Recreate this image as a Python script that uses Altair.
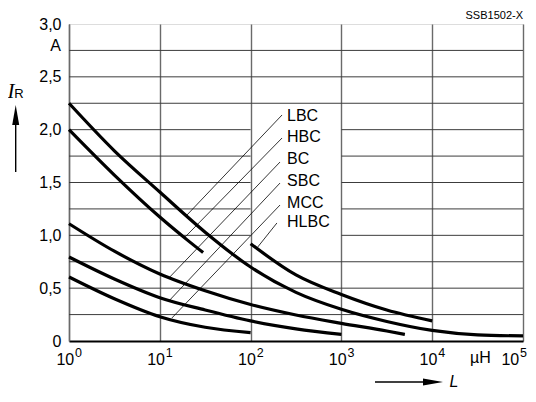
import altair as alt
import pandas as pd

# ---- data ----
curve_names = ["LBC", "HBC", "BC", "SBC", "MCC", "HLBC"]
lbc_L = [1, 3.16, 10, 31.6, 100, 316, 1000, 3162, 1e4, 3.16e4, 1e5]
lbc_I = [2.25, 1.80, 1.41, 1.03, 0.70, 0.46, 0.30, 0.185, 0.10, 0.058, 0.048]
hbc_L = [1, 3.16, 10, 20, 30]
hbc_I = [2.0, 1.57, 1.173, 0.957, 0.837]
bc_L = [1, 3.16, 10, 31.6, 100, 316, 1000, 3162, 5000]
bc_I = [1.11, 0.85, 0.634, 0.475, 0.345, 0.246, 0.167, 0.095, 0.062]
sbc_L = [1, 3.16, 10, 31.6, 100, 316, 1000]
sbc_I = [0.795, 0.587, 0.41, 0.293, 0.19, 0.115, 0.063]
mcc_L = [1, 3.16, 10, 31.6, 100]
mcc_I = [0.606, 0.40, 0.23, 0.13, 0.08]
hlbc_L = [100, 316, 1000, 3162, 1e4]
hlbc_I = [0.92, 0.625, 0.44, 0.293, 0.19]

# leader lines (label end -> curve end), in data units
lead_L1 = [222, 222, 211, 211, 211, 195]
lead_I1 = [2.139, 1.921, 1.694, 1.495, 1.287, 1.117]
lead_L2 = [19.9, 19.0, 12.9, 12.9, 13.6, 120]
lead_I2 = [1.192, 0.984, 0.606, 0.388, 0.218, 0.89]
label_L = [252, 252, 252, 252, 252, 252]
label_I = [2.129, 1.93, 1.722, 1.514, 1.306, 1.126]

grid_full = [0.25, 0.5, 0.75, 2.25, 2.5, 2.75]
grid_split = [1.0, 1.25, 1.5, 1.75, 2.0]
decades = [1, 10, 100, 1000, 10000, 100000]
exponents = ["0", "1", "2", "3", "4", "5"]
y_ticks = [0, 0.5, 1.0, 1.5, 2.0, 2.5, 3.0]

FONT = "Liberation Sans, Arial"
FS = 16
W, H = 454, 317

series = [lbc_L, hbc_L, bc_L, sbc_L, mcc_L, hlbc_L]
values = [lbc_I, hbc_I, bc_I, sbc_I, mcc_I, hlbc_I]
rows = []
for n, Ls, Is in zip(curve_names, series, values):
    for i, (l, v) in enumerate(zip(Ls, Is)):
        rows.append({"curve": n, "L": l, "I": v, "o": i})
curves = pd.DataFrame(rows)

g = []
for y in grid_full:
    g.append({"x1": 1, "x2": 1e5, "y": y})
for y in grid_split:
    g.append({"x1": 1, "x2": 100, "y": y})
    g.append({"x1": 1000, "x2": 1e5, "y": y})
grid = pd.DataFrame(g)

leaders = pd.DataFrame({"L1": lead_L1, "I1": lead_I1, "L2": lead_L2, "I2": lead_I2})
labels = pd.DataFrame({"name": curve_names, "L": label_L, "I": label_I})
dec = pd.DataFrame({"L": decades, "e": exponents})

xs = alt.Scale(type="log", domain=[1, 1e5], nice=False)
ys = alt.Scale(domain=[0, 3], nice=False)

base_x = alt.X("x1:Q", scale=xs, axis=alt.Axis(
    values=decades, grid=True, gridColor="#6a6a6a", gridWidth=1.4,
    labels=False, ticks=False, title=None, domainColor="#000", domainWidth=2))

grid_layer = alt.Chart(grid).mark_rule(color="#3c3c3c", strokeWidth=1).encode(
    x=base_x, x2="x2:Q",
    y=alt.Y("y:Q", scale=ys, axis=alt.Axis(
        values=y_ticks, grid=False, ticks=False, labelPadding=8, title=None,
        labelFont=FONT, labelFontSize=FS, labelColor="#000",
        domainColor="#6a6a6a", domainWidth=1.4,
        labelExpr="datum.value == 0 ? '0' : replace(format(datum.value, '.1f'), '.', ',')")),
)

curve_layer = alt.Chart(curves).mark_line(
    color="#000", strokeWidth=3.2, interpolate="monotone", strokeCap="butt").encode(
    x=alt.X("L:Q", scale=xs), y=alt.Y("I:Q", scale=ys), detail="curve:N", order="o:Q")

leader_layer = alt.Chart(leaders).mark_rule(color="#000", strokeWidth=0.8).encode(
    x=alt.X("L1:Q", scale=xs), y=alt.Y("I1:Q", scale=ys), x2="L2:Q", y2="I2:Q")

label_layer = alt.Chart(labels).mark_text(
    align="left", baseline="middle", font=FONT, fontSize=FS, color="#000").encode(
    x=alt.X("L:Q", scale=xs), y=alt.Y("I:Q", scale=ys), text="name:N")


def tick_labels(filt, shift):
    ten = alt.Chart(dec).transform_filter(filt).mark_text(
        align="center", baseline="alphabetic", font=FONT, fontSize=FS,
        dx=-3.7 + shift, color="#000").encode(
        x=alt.X("L:Q", scale=xs), y=alt.value(H + 24), text=alt.value("10"))
    ex = alt.Chart(dec).transform_filter(filt).mark_text(
        align="center", baseline="alphabetic", font=FONT, fontSize=12.5,
        dx=9.5 + shift, color="#000").encode(
        x=alt.X("L:Q", scale=xs), y=alt.value(H + 15.7), text="e:N")
    return [ten, ex]


ticks_main = tick_labels("datum.L < 100000", 0)
ticks_last = tick_labels("datum.L >= 100000", -9)

unit_df = pd.DataFrame({"L": [34000], "t": ["µH"]})
unit_x = alt.Chart(unit_df).mark_text(
    align="center", baseline="alphabetic", font=FONT, fontSize=FS, color="#000").encode(
    x=alt.X("L:Q", scale=xs), y=alt.value(H + 22), text="t:N")

unit_a_df = pd.DataFrame({"I": [2.75], "t": ["A"]})
unit_y = alt.Chart(unit_a_df).mark_text(
    align="right", baseline="middle", font=FONT, fontSize=FS, dy=-4, color="#000").encode(
    x=alt.value(-8), y=alt.Y("I:Q", scale=ys), text="t:N")

code_df = pd.DataFrame({"t": ["SSB1502-X"]})
code = alt.Chart(code_df).mark_text(
    align="right", baseline="middle", font=FONT, fontSize=11, color="#000").encode(
    x=alt.value(W), y=alt.value(-8.5), text="t:N")

ir_df = pd.DataFrame({"t": ["I"]})
ir_i = alt.Chart(ir_df).mark_text(
    align="center", baseline="alphabetic", font="Liberation Serif", fontStyle="italic",
    fontSize=21, color="#000").encode(x=alt.value(-58), y=alt.value(74), text="t:N")
ir_r = alt.Chart(pd.DataFrame({"t": ["R"]})).mark_text(
    align="center", baseline="alphabetic", font=FONT, fontSize=13, color="#000").encode(
    x=alt.value(-50), y=alt.value(74), text="t:N")

l_lab = alt.Chart(pd.DataFrame({"t": ["L"]})).mark_text(
    align="center", baseline="alphabetic", font=FONT, fontStyle="italic",
    fontSize=FS, color="#000").encode(x=alt.value(385), y=alt.value(363), text="t:N")

arrow_df = pd.DataFrame({"k": [0]})
y_shaft = alt.Chart(arrow_df).mark_rule(color="#000", strokeWidth=1.4).encode(
    x=alt.value(-53.3), y=alt.value(148), y2=alt.value(95))
y_head = alt.Chart(arrow_df).mark_point(
    shape="M0,-1L0.35,1L-0.35,1Z", size=400, filled=True, color="#000", opacity=1).encode(
    x=alt.value(-53.3), y=alt.value(91))
x_shaft = alt.Chart(arrow_df).mark_rule(color="#000", strokeWidth=1.4).encode(
    x=alt.value(306), x2=alt.value(360), y=alt.value(358))
x_head = alt.Chart(arrow_df).mark_point(
    shape="M1,0L-1,0.35L-1,-0.35Z", size=400, filled=True, color="#000", opacity=1).encode(
    x=alt.value(364), y=alt.value(358))

chart = alt.layer(
    grid_layer, curve_layer, leader_layer, label_layer, *ticks_main, *ticks_last,
    unit_x, unit_y, code, ir_i, ir_r, l_lab, y_shaft, y_head, x_shaft, x_head,
).properties(
    width=W, height=H,
    autosize=alt.AutoSizeParams(type="none"),
    padding={"left": 61, "top": 16, "right": 5, "bottom": 50},
).configure_view(stroke="#6a6a6a", strokeWidth=1.4).configure(background="white")

chart.save("out.html", embed_options={"renderer": "svg", "actions": False})
